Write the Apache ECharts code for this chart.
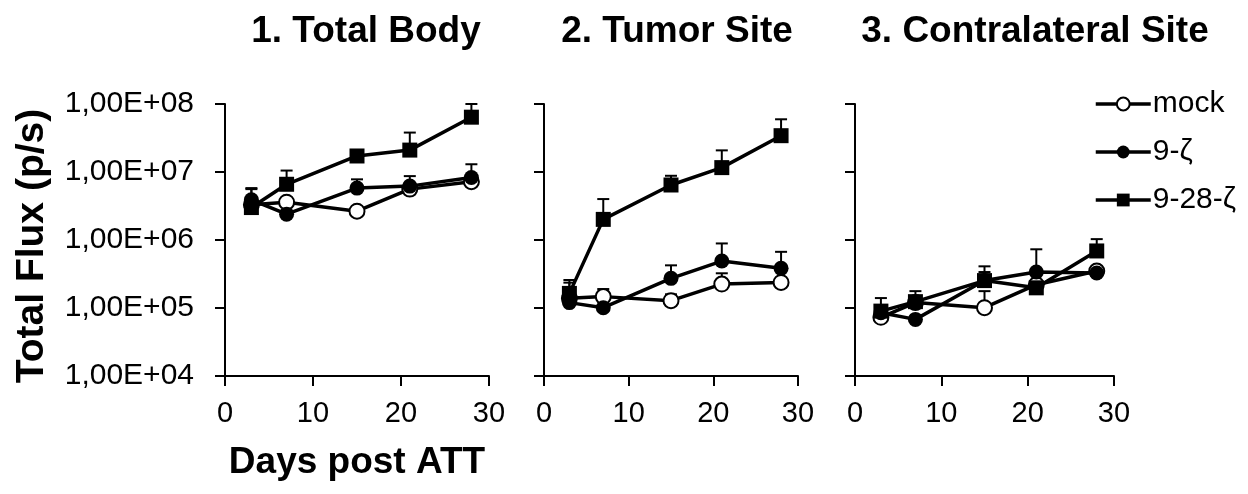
<!DOCTYPE html>
<html><head><meta charset="utf-8">
<script src="https://cdn.jsdelivr.net/npm/echarts@6/dist/echarts.min.js"></script>
<style>html,body{margin:0;padding:0;background:#fff}#c{width:1248px;height:494px}</style>
</head><body><div id="c"></div>
<script>
const days = [3, 7, 15, 21, 28];
const groups = ['mock', '9-ζ', '9-28-ζ'];
const panelTitles = ['1. Total Body', '2. Tumor Site', '3. Contralateral Site'];
const xTicks = [0, 10, 20, 30];
const yTickExponents = [4, 5, 6, 7, 8];

// Panel 1: Total Body
const tbMock = [3.3e6, 3.6e6, 2.65e6, 5.6e6, 7.2e6];
const tbMockUp = [3.6e6, 3.9e6, 2.9e6, 6.0e6, 7.6e6];
const tbZ = [3.9e6, 2.4e6, 5.8e6, 6.2e6, 8.3e6];
const tbZUp = [5.6e6, 2.7e6, 7.8e6, 8.7e6, 1.3e7];
const tb28 = [3.0e6, 6.6e6, 1.72e7, 2.1e7, 6.4e7];
const tb28Up = [5.8e6, 1.05e7, 1.9e7, 3.8e7, 1.0e8];

// Panel 2: Tumor Site
const tsMock = [1.39e5, 1.47e5, 1.28e5, 2.25e5, 2.38e5];
const tsMockUp = [1.6e5, 1.9e5, 1.59e5, 3.24e5, 2.6e5];
const tsZ = [1.2e5, 1.01e5, 2.73e5, 4.9e5, 3.83e5];
const tsZUp = [2.36e5, 1.1e5, 4.24e5, 8.9e5, 6.7e5];
const ts28 = [1.64e5, 2.01e6, 6.44e6, 1.16e7, 3.42e7];
const ts28Up = [2.58e5, 4.0e6, 8.8e6, 2.08e7, 5.96e7];

// Panel 3: Contralateral Site
const csMock = [7.3e4, 1.2e5, 1.01e5, 2.2e5, 3.5e5];
const csMockUp = [8.0e4, 1.3e5, 1.77e5, 2.4e5, 3.8e5];
const csZ = [8.5e4, 6.8e4, 2.53e5, 3.38e5, 3.27e5];
const csZUp = [9.5e4, 7.5e4, 4.1e5, 7.3e5, 3.6e5];
const cs28 = [9.0e4, 1.24e5, 2.53e5, 1.98e5, 6.9e5];
const cs28Up = [1.4e5, 1.77e5, 3.38e5, 2.2e5, 1.03e6];

const panels = [
  [[tbMock, tbMockUp], [tbZ, tbZUp], [tb28, tb28Up]],
  [[tsMock, tsMockUp], [tsZ, tsZUp], [ts28, ts28Up]],
  [[csMock, csMockUp], [csZ, csZUp], [cs28, cs28Up]]
];

const FONT = "'Liberation Sans', Arial, sans-serif";
const gridPos = [
  {left: 225, width: 264},
  {left: 544, width: 254},
  {left: 855, width: 259}
];
const titleCenters = [361, 672, 1030];

const symbols = ['circle', 'circle', 'rect'];
const fills = ['#fff', '#000', '#000'];

const grids = gridPos.map(g => ({left: g.left, width: g.width, top: 104, bottom: 118}));
const xAxes = gridPos.map((g, i) => ({
  type: 'value', gridIndex: i, min: xTicks[0], max: xTicks[xTicks.length - 1], interval: 10,
  axisLine: {show: true, lineStyle: {color: '#000', width: 2}},
  axisTick: {show: true, length: 10, lineStyle: {color: '#000', width: 2}},
  axisLabel: {show: true, color: '#000', fontSize: 29, fontFamily: FONT, margin: 23},
  splitLine: {show: false},
  name: i === 0 ? 'Days post ATT' : '', nameLocation: 'middle', nameGap: 68,
  nameTextStyle: {color: '#000', fontSize: 37, fontWeight: 'bold', fontFamily: FONT}
}));
const yAxes = gridPos.map((g, i) => ({
  type: 'log', logBase: 10, gridIndex: i,
  min: Math.pow(10, yTickExponents[0]), max: Math.pow(10, yTickExponents[yTickExponents.length - 1]),
  axisLine: {show: true, lineStyle: {color: '#000', width: 2}},
  axisTick: {show: true, length: 10, lineStyle: {color: '#000', width: 2}},
  axisLabel: {show: i === 0, color: '#000', fontSize: 30, fontFamily: FONT, margin: 31,
    formatter: v => '1,00E+' + String(Math.round(Math.log10(v))).padStart(2, '0')},
  splitLine: {show: false}, minorTick: {show: false}
}));

const series = [];
panels.forEach((p, pi) => {
  p.forEach((grp, gi) => {
    const vals = grp[0], ups = grp[1];
    series.push({
      type: 'custom', name: 'err' + pi + gi, xAxisIndex: pi, yAxisIndex: pi, z: 1,
      data: days.map((d, k) => [d, vals[k], ups[k]]),
      encode: {x: 0, y: 1},
      renderItem: (params, api) => {
        const a = api.coord([api.value(0), api.value(1)]);
        const b = api.coord([api.value(0), api.value(2)]);
        return {type: 'group', children: [
          {type: 'line', shape: {x1: a[0], y1: a[1], x2: b[0], y2: b[1]}, style: {stroke: '#000', lineWidth: 2}},
          {type: 'line', shape: {x1: b[0] - 6, y1: b[1], x2: b[0] + 6, y2: b[1]}, style: {stroke: '#000', lineWidth: 2}}
        ]};
      },
      silent: true
    });
  });
  p.forEach((grp, gi) => {
    series.push({
      type: 'line', name: groups[gi], xAxisIndex: pi, yAxisIndex: pi, z: 3 + gi,
      data: days.map((d, k) => [d, grp[0][k]]),
      symbol: symbols[gi], symbolSize: gi === 2 ? 15 : 15, showSymbol: true,
      lineStyle: {color: '#000', width: 3.5},
      itemStyle: {color: fills[gi], borderColor: '#000', borderWidth: gi === 0 ? 2 : 0}
    });
  });
});

const chart = echarts.init(document.getElementById('c'), null, {renderer: 'canvas'});
chart.setOption({
  animation: false,
  backgroundColor: '#fff',
  title: panelTitles.map((t, i) => ({
    text: t, left: titleCenters[i], top: 8, textAlign: 'center',
    textStyle: {color: '#000', fontSize: 37, fontWeight: 'bold', fontFamily: FONT}
  })),
  legend: {
    data: groups, orient: 'vertical', left: 1089, top: 84, itemWidth: 55, itemHeight: 16, itemGap: 18,
    lineStyle: {color: '#000', width: 3.5},
    textStyle: {color: '#000', fontSize: 30, fontFamily: FONT, padding: [0, 0, 0, -3]}
  },
  graphic: [{
    type: 'text', x: 32, y: 246, rotation: Math.PI / 2,
    style: {text: 'Total Flux (p/s)', fill: '#000', font: 'bold 39px ' + FONT, align: 'center', verticalAlign: 'middle'}
  }],
  grid: grids, xAxis: xAxes, yAxis: yAxes, series: series
});
</script></body></html>
